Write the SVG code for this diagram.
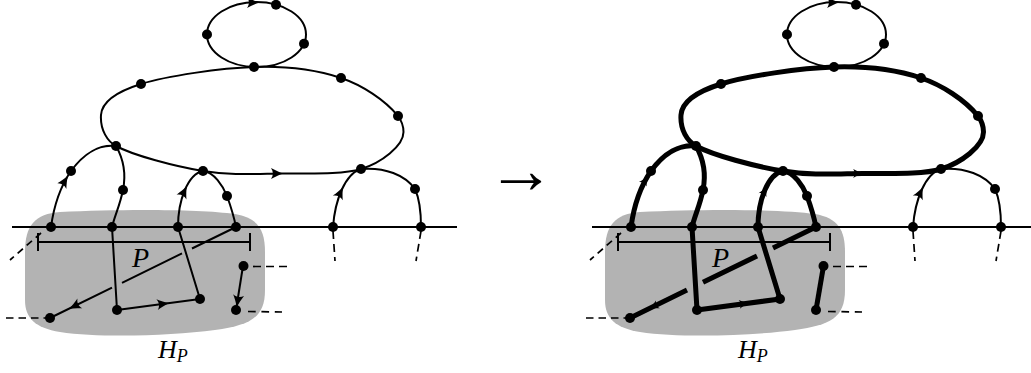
<svg xmlns="http://www.w3.org/2000/svg" xmlns:xlink="http://www.w3.org/1999/xlink" width="1031" height="373" viewBox="0 0 1031 373">
<style>
.blob{fill:#b3b3b3}
.e{fill:none;stroke:#000;stroke-width:2;stroke-linejoin:round}
.t{fill:none;stroke:#000;stroke-width:5;stroke-linejoin:round}
.d{fill:none;stroke:#000;stroke-width:1.7}
.n{fill:#000}
.lbl{font-family:"Liberation Serif","DejaVu Serif",serif;font-style:italic;fill:#000}
.sym{font-family:"Liberation Serif","DejaVu Serif",serif;fill:#000}
</style>
<defs>
<path id="ah" d="M1.5,0 C-3,-1.3 -7,-3.3 -11,-5.5 C-8.5,-2 -8.5,2 -11,5.5 C-7,3.3 -3,1.3 1.5,0 Z" fill="#000"/>
<path id="blobShape" d="M60,212 C120,209 200,209 235,214 C258,218 265,230 265,252 L265,290 C265,318 250,325 215,330 C170,336 100,338 60,332 C35,328 25,318 25,300 L25,252 C25,225 35,214 60,212 Z"/>
</defs>

<!-- LEFT FIGURE -->
<g id="left-figure">
<use xlink:href="#blobShape" class="blob"/>
<g id="L-connectors">
<line class="e" x1="12" y1="227" x2="457" y2="227"/>
<path class="e" d="M38,242 H250 M38,233 V251 M250,233 V251"/>
<ellipse class="e" cx="256.5" cy="34.5" rx="49.5" ry="32.5"/>
<path class="e" d="M254,67 C287,66 317,70 341,78 C362,85 385,100 398,116 C401,120 403.5,126 403.5,132 C403.5,146 381,163 361,169 C341,175 308,173.2 282,173.5 C256,173.8 231,175.6 203,171 C175,166.4 133,155.3 116,146 C107.5,141.4 100,130 101,115 C101.8,103 115.5,92 141,84 C166.5,76 220.7,68 254,67 Z"/>
<path class="e" d="M51,227 C54,205 60,187 71,171 C84,153 100,144 116,146"/>
<path class="e" d="M116,146 C124,160 126,175 123,190 C120,205 115,215 112,227"/>
<path class="e" d="M178,227 C178,200 188,174 203,171 C214,172 223,186 227,196 C231,207 234,217 236,227"/>
<path class="e" d="M333,227 C335,200 345,174 361,169 C385,167 405,175 415,189 C420,200 421,215 421,227"/>
<path class="e" d="M112,227 L117,310 L200,299 L178,227"/>
<path class="e" d="M236,227 L192,248.5 M182,253.4 L122,282.8 M112,287.7 L50,318"/>
<path class="e" d="M243,266 L236,310"/>
<path class="d" stroke-dasharray="7 5" d="M41,233 L10,260"/>
<path class="d" stroke-dasharray="8 5" d="M253,266.5 H287"/>
<path class="d" stroke-dasharray="7.7 5.7" d="M248,311.5 L282,312"/>
<path class="d" stroke-dasharray="7.5 5" d="M6,318 H46"/>
<path class="d" stroke-dasharray="8 5" d="M333,231 L335,261 M421,231 L416,261"/>
<use xlink:href="#ah" transform="translate(258,2.5)"/>
<use xlink:href="#ah" transform="translate(282,173.5)"/>
<use xlink:href="#ah" transform="translate(67.3,176.8) rotate(-59)"/>
<use xlink:href="#ah" transform="translate(186.3,187.2) rotate(-64)"/>
<use xlink:href="#ah" transform="translate(342.5,188) rotate(-64.5)"/>
<use xlink:href="#ah" transform="translate(70,308.2) rotate(153.9)"/>
<use xlink:href="#ah" transform="translate(168,303.2) rotate(-7.5)"/>
<use xlink:href="#ah" transform="translate(236.9,306) rotate(99)"/>
</g>
<g id="L1"><circle class="n" cx="207" cy="34.5" r="5"/></g>
<g id="L2"><circle class="n" cx="276" cy="4.8" r="5"/></g>
<g id="L3"><circle class="n" cx="304" cy="43.8" r="5"/></g>
<g id="L4"><circle class="n" cx="254" cy="67" r="5"/></g>
<g id="L5"><circle class="n" cx="141" cy="84" r="5"/></g>
<g id="L6"><circle class="n" cx="341" cy="78" r="5"/></g>
<g id="L7"><circle class="n" cx="398" cy="116" r="5"/></g>
<g id="L8"><circle class="n" cx="116" cy="146" r="5"/></g>
<g id="L9"><circle class="n" cx="203" cy="171" r="5"/></g>
<g id="L10"><circle class="n" cx="361" cy="169" r="5"/></g>
<g id="L11"><circle class="n" cx="71" cy="171" r="5"/></g>
<g id="L12"><circle class="n" cx="123" cy="190" r="5"/></g>
<g id="L13"><circle class="n" cx="227" cy="196" r="5"/></g>
<g id="L14"><circle class="n" cx="415" cy="189" r="5"/></g>
<g id="L15"><circle class="n" cx="51" cy="227" r="5"/></g>
<g id="L16"><circle class="n" cx="112" cy="227" r="5"/></g>
<g id="L17"><circle class="n" cx="178" cy="227" r="5"/></g>
<g id="L18"><circle class="n" cx="236" cy="227" r="5"/></g>
<g id="L19"><circle class="n" cx="333" cy="227" r="5"/></g>
<g id="L20"><circle class="n" cx="421" cy="227" r="5"/></g>
<g id="L21"><circle class="n" cx="117" cy="310" r="5"/></g>
<g id="L22"><circle class="n" cx="200" cy="299" r="5"/></g>
<g id="L23"><circle class="n" cx="50" cy="318" r="5"/></g>
<g id="L24"><circle class="n" cx="243.5" cy="266" r="5"/></g>
<g id="L25"><circle class="n" cx="236" cy="310" r="5"/></g>
<text class="lbl" x="132" y="267" font-size="28">P</text>
<text class="lbl" x="158" y="358" font-size="26">H<tspan font-size="18" dy="4">P</tspan></text>
</g>

<text class="sym" x="521" y="193" font-size="68" text-anchor="middle">→</text>

<!-- RIGHT FIGURE -->
<g id="right-figure" transform="translate(580,0)">
<use xlink:href="#blobShape" class="blob"/>
<g id="R-connectors">
<line class="e" x1="12" y1="227" x2="460" y2="227"/>
<path class="e" d="M38,242 H250 M38,233 V251 M250,233 V251"/>
<ellipse class="e" cx="256.5" cy="34.5" rx="49.5" ry="32.5"/>
<path class="t" d="M254,67 C287,66 317,70 341,78 C362,85 385,100 398,116 C401,120 403.5,126 403.5,132 C403.5,146 381,163 361,169 C341,175 308,173.2 282,173.5 C256,173.8 231,175.6 203,171 C175,166.4 133,155.3 116,146 C107.5,141.4 100,130 101,115 C101.8,103 115.5,92 141,84 C166.5,76 220.7,68 254,67 Z"/>
<path class="t" d="M51,227 C54,205 60,187 71,171 C84,153 100,144 116,146"/>
<path class="t" d="M116,146 C124,160 126,175 123,190 C120,205 115,215 112,227"/>
<path class="t" d="M178,227 C178,200 188,174 203,171 C214,172 223,186 227,196 C231,207 234,217 236,227"/>
<path class="e" d="M333,227 C335,200 345,174 361,169 C385,167 405,175 415,189 C420,200 421,215 421,227"/>
<path class="t" d="M112,227 L117,310 L200,299 L178,227"/>
<path class="t" d="M236,227 L193,248 M177,255.9 L123,282.3 M107,290.1 L50,318"/>
<path class="t" d="M243.5,266 L236,310"/>
<path class="d" stroke-dasharray="7 5" d="M41,233 L10,260"/>
<path class="d" stroke-dasharray="8 5" d="M253,266.5 H287"/>
<path class="d" stroke-dasharray="7.7 5.7" d="M248,311.5 L282,312"/>
<path class="d" stroke-dasharray="7.5 5" d="M6,318 H46"/>
<path class="d" stroke-dasharray="8 5" d="M333,231 L335,261 M421,231 L416,261"/>
<use xlink:href="#ah" transform="translate(258,2.5)"/>
<use xlink:href="#ah" transform="translate(282,173.5) scale(0.8)"/>
<use xlink:href="#ah" transform="translate(67.3,176.8) rotate(-59) scale(0.8)"/>
<use xlink:href="#ah" transform="translate(186.3,187.2) rotate(-64) scale(0.8)"/>
<use xlink:href="#ah" transform="translate(342.5,188) rotate(-64.5)"/>
<use xlink:href="#ah" transform="translate(70,308.2) rotate(153.9) scale(0.8)"/>
<use xlink:href="#ah" transform="translate(168,303.2) rotate(-7.5) scale(0.8)"/>
</g>
<g id="R1"><circle class="n" cx="207" cy="34.5" r="5"/></g>
<g id="R2"><circle class="n" cx="276" cy="4.8" r="5"/></g>
<g id="R3"><circle class="n" cx="304" cy="43.8" r="5"/></g>
<g id="R4"><circle class="n" cx="254" cy="67" r="5"/></g>
<g id="R5"><circle class="n" cx="141" cy="84" r="5"/></g>
<g id="R6"><circle class="n" cx="341" cy="78" r="5"/></g>
<g id="R7"><circle class="n" cx="398" cy="116" r="5"/></g>
<g id="R8"><circle class="n" cx="116" cy="146" r="5"/></g>
<g id="R9"><circle class="n" cx="203" cy="171" r="5"/></g>
<g id="R10"><circle class="n" cx="361" cy="169" r="5"/></g>
<g id="R11"><circle class="n" cx="71" cy="171" r="5"/></g>
<g id="R12"><circle class="n" cx="123" cy="190" r="5"/></g>
<g id="R13"><circle class="n" cx="227" cy="196" r="5"/></g>
<g id="R14"><circle class="n" cx="415" cy="189" r="5"/></g>
<g id="R15"><circle class="n" cx="51" cy="227" r="5"/></g>
<g id="R16"><circle class="n" cx="112" cy="227" r="5"/></g>
<g id="R17"><circle class="n" cx="178" cy="227" r="5"/></g>
<g id="R18"><circle class="n" cx="236" cy="227" r="5"/></g>
<g id="R19"><circle class="n" cx="333" cy="227" r="5"/></g>
<g id="R20"><circle class="n" cx="421" cy="227" r="5"/></g>
<g id="R21"><circle class="n" cx="117" cy="310" r="5"/></g>
<g id="R22"><circle class="n" cx="200" cy="299" r="5"/></g>
<g id="R23"><circle class="n" cx="50" cy="318" r="5"/></g>
<g id="R24"><circle class="n" cx="243.5" cy="266" r="5"/></g>
<g id="R25"><circle class="n" cx="236" cy="310" r="5"/></g>
<text class="lbl" x="132" y="267" font-size="28">P</text>
<text class="lbl" x="158" y="358" font-size="26">H<tspan font-size="18" dy="4">P</tspan></text>
</g>
</svg>
